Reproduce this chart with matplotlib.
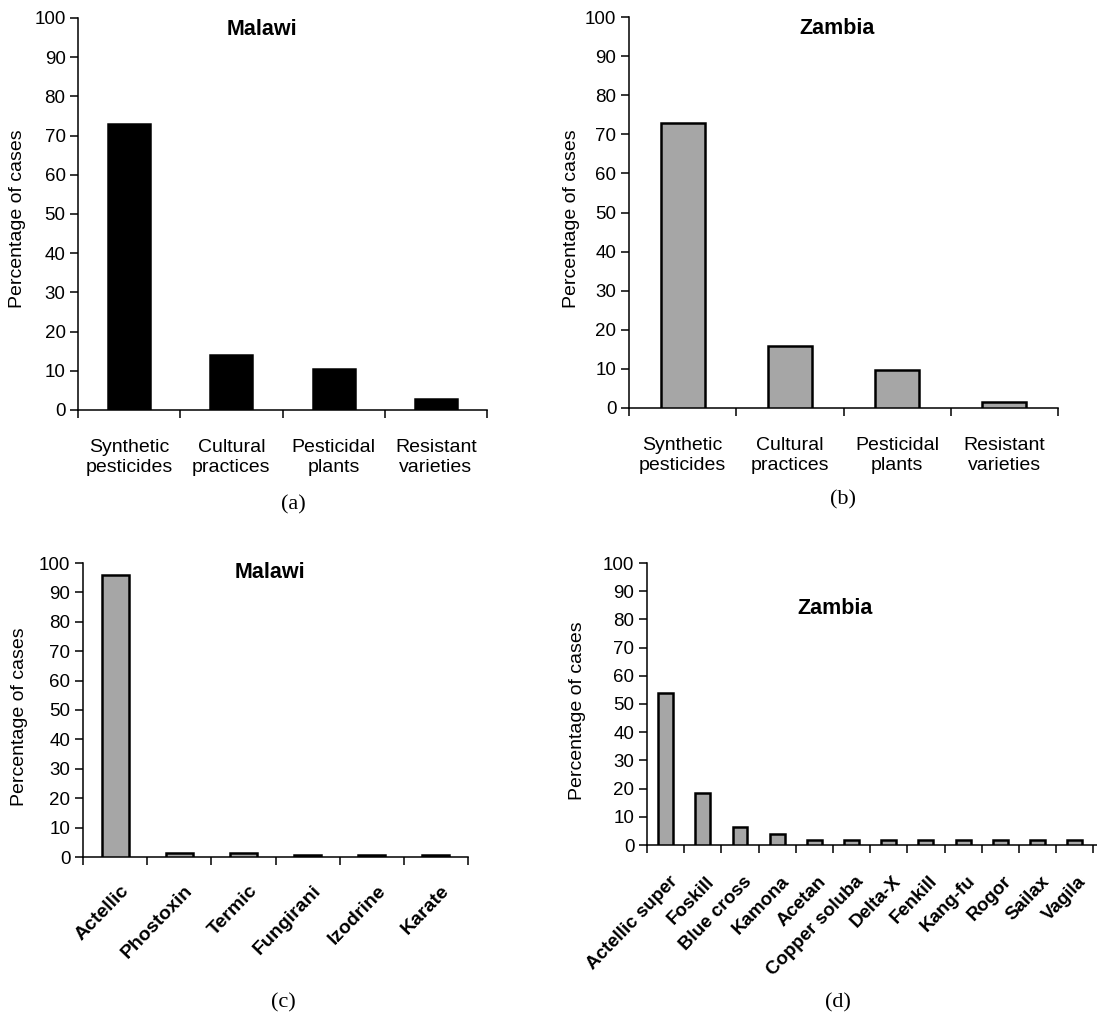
import matplotlib
matplotlib.use("Agg")
import matplotlib.pyplot as plt
from matplotlib.transforms import ScaledTranslation
import numpy as np

# panel (a) / (b): control methods
methods = ["Synthetic\npesticides", "Cultural\npractices", "Pesticidal\nplants", "Resistant\nvarieties"]
malawi_methods = [73.0, 14.0, 10.5, 2.7]
zambia_methods = [73.0, 15.9, 9.7, 1.6]

# panel (c): Malawi pesticides
malawi_products = ["Actellic", "Phostoxin", "Termic", "Fungirani", "Izodrine", "Karate"]
malawi_product_pct = [96.0, 1.4, 1.4, 0.6, 0.6, 0.6]

# panel (d): Zambia pesticides
zambia_products = ["Actellic super", "Foskill", "Blue cross", "Kamona", "Acetan", "Copper soluba",
                   "Delta-X", "Fenkill", "Kang-fu", "Rogor", "Sailax", "Vagila"]
zambia_product_pct = [54.0, 18.5, 6.3, 3.8, 1.8, 1.8, 1.8, 1.8, 1.8, 1.8, 1.8, 1.8]

W, H = 1097, 1016
SANS = "Liberation Sans"
SERIF = "Liberation Serif"
GREY = "#a6a6a6"


def add_panel(fig, l, t, r, b):
    # pixel box -> figure fraction
    return fig.add_axes([l / W, 1 - b / H, (r - l) / W, (b - t) / H])


def style_axes(ax, n, xmax):
    ax.set_ylim(0, 100)
    ax.set_xlim(-0.5, xmax)
    for s in ["top", "right"]:
        ax.spines[s].set_visible(False)
    for s in ["left", "bottom"]:
        ax.spines[s].set_linewidth(1.1)
    ax.set_yticks(np.arange(0, 101, 10))
    ax.tick_params(axis="y", direction="out", length=6, width=1.1, labelsize=13.5, pad=3)
    ax.set_xticks(np.arange(n + 1) - 0.5)
    ax.set_xticklabels([])
    ax.tick_params(axis="x", which="major", direction="out", length=6, width=1.1)
    ax.set_xticks(np.arange(n), minor=True)
    for lab in ax.get_yticklabels():
        lab.set_fontfamily(SANS)


def bars(ax, values, color, width):
    x = np.arange(len(values))
    ax.bar(x, values, width=width, color=color, edgecolor="black", linewidth=1.8, zorder=3)


def rotated_labels(fig, ax, names, size, pad, dx):
    ax.set_xticklabels(names, minor=True, fontsize=size, family=SANS, fontweight="bold",
                       rotation=46, ha="right", va="top", rotation_mode="anchor")
    ax.tick_params(axis="x", which="minor", length=0, pad=pad)
    shift = ScaledTranslation(dx / 100, 0, fig.dpi_scale_trans)
    for lab in ax.get_xticklabels(minor=True):
        lab.set_transform(lab.get_transform() + shift)


def main():
    fig = plt.figure(figsize=(W / 100, H / 100), dpi=100)

    # (a)
    ax = add_panel(fig, 78, 18, 487, 410)
    bars(ax, malawi_methods, "black", 0.41)
    style_axes(ax, len(methods), 3.37)
    ax.set_xticklabels(methods, minor=True, fontsize=14, family=SANS, linespacing=1.2)
    ax.tick_params(axis="x", which="minor", length=0, pad=21)
    ax.text(0.45, 0.97, "Malawi", transform=ax.transAxes, ha="center", va="center",
            fontsize=15.5, fontweight="bold", family=SANS)
    fig.text(18 / W, 1 - 219 / H, "Percentage of cases", rotation=90, ha="center", va="center",
             fontsize=14, family=SANS)
    fig.text(293 / W, 1 - 505 / H, "(a)", ha="center", va="center", fontsize=16, family=SERIF)

    # (b)
    ax = add_panel(fig, 629, 17, 1058, 408)
    bars(ax, zambia_methods, GREY, 0.41)
    style_axes(ax, len(methods), 3.4)
    ax.set_xticklabels(methods, minor=True, fontsize=14, family=SANS, linespacing=1.2)
    ax.tick_params(axis="x", which="minor", length=0, pad=21)
    ax.text((837 - 629) / 429, 1 - (28 - 17) / 391, "Zambia", transform=ax.transAxes,
            ha="center", va="center", fontsize=15.5, fontweight="bold", family=SANS)
    fig.text(572 / W, 1 - 219 / H, "Percentage of cases", rotation=90, ha="center", va="center",
             fontsize=14, family=SANS)
    fig.text(843 / W, 1 - 500 / H, "(b)", ha="center", va="center", fontsize=16, family=SERIF)

    # (c)
    ax = add_panel(fig, 83, 563, 468, 857)
    bars(ax, malawi_product_pct, GREY, 0.42)
    style_axes(ax, len(malawi_products), 5.1)
    rotated_labels(fig, ax, malawi_products, 14, 18, 5)
    ax.text((270 - 83) / 385, 1 - (572 - 563) / 294, "Malawi", transform=ax.transAxes,
            ha="center", va="center", fontsize=15.5, fontweight="bold", family=SANS)
    fig.text(20 / W, 1 - 717 / H, "Percentage of cases", rotation=90, ha="center", va="center",
             fontsize=14, family=SANS)
    fig.text(283 / W, 1 - 1003 / H, "(c)", ha="center", va="center", fontsize=16, family=SERIF)

    # (d)
    ax = add_panel(fig, 647, 563, 1097, 845)
    bars(ax, zambia_product_pct, GREY, 0.4)
    style_axes(ax, len(zambia_products), 11.6)
    rotated_labels(fig, ax, zambia_products, 13.5, 20, 3)
    ax.text((835 - 647) / 450, 1 - (609 - 563) / 282, "Zambia", transform=ax.transAxes,
            ha="center", va="center", fontsize=15.5, fontweight="bold", family=SANS)
    fig.text(578 / W, 1 - 711 / H, "Percentage of cases", rotation=90, ha="center", va="center",
             fontsize=14, family=SANS)
    fig.text(838 / W, 1 - 1003 / H, "(d)", ha="center", va="center", fontsize=16, family=SERIF)

    fig.savefig("out.png", dpi=100)


if __name__ == '__main__':
    main()
